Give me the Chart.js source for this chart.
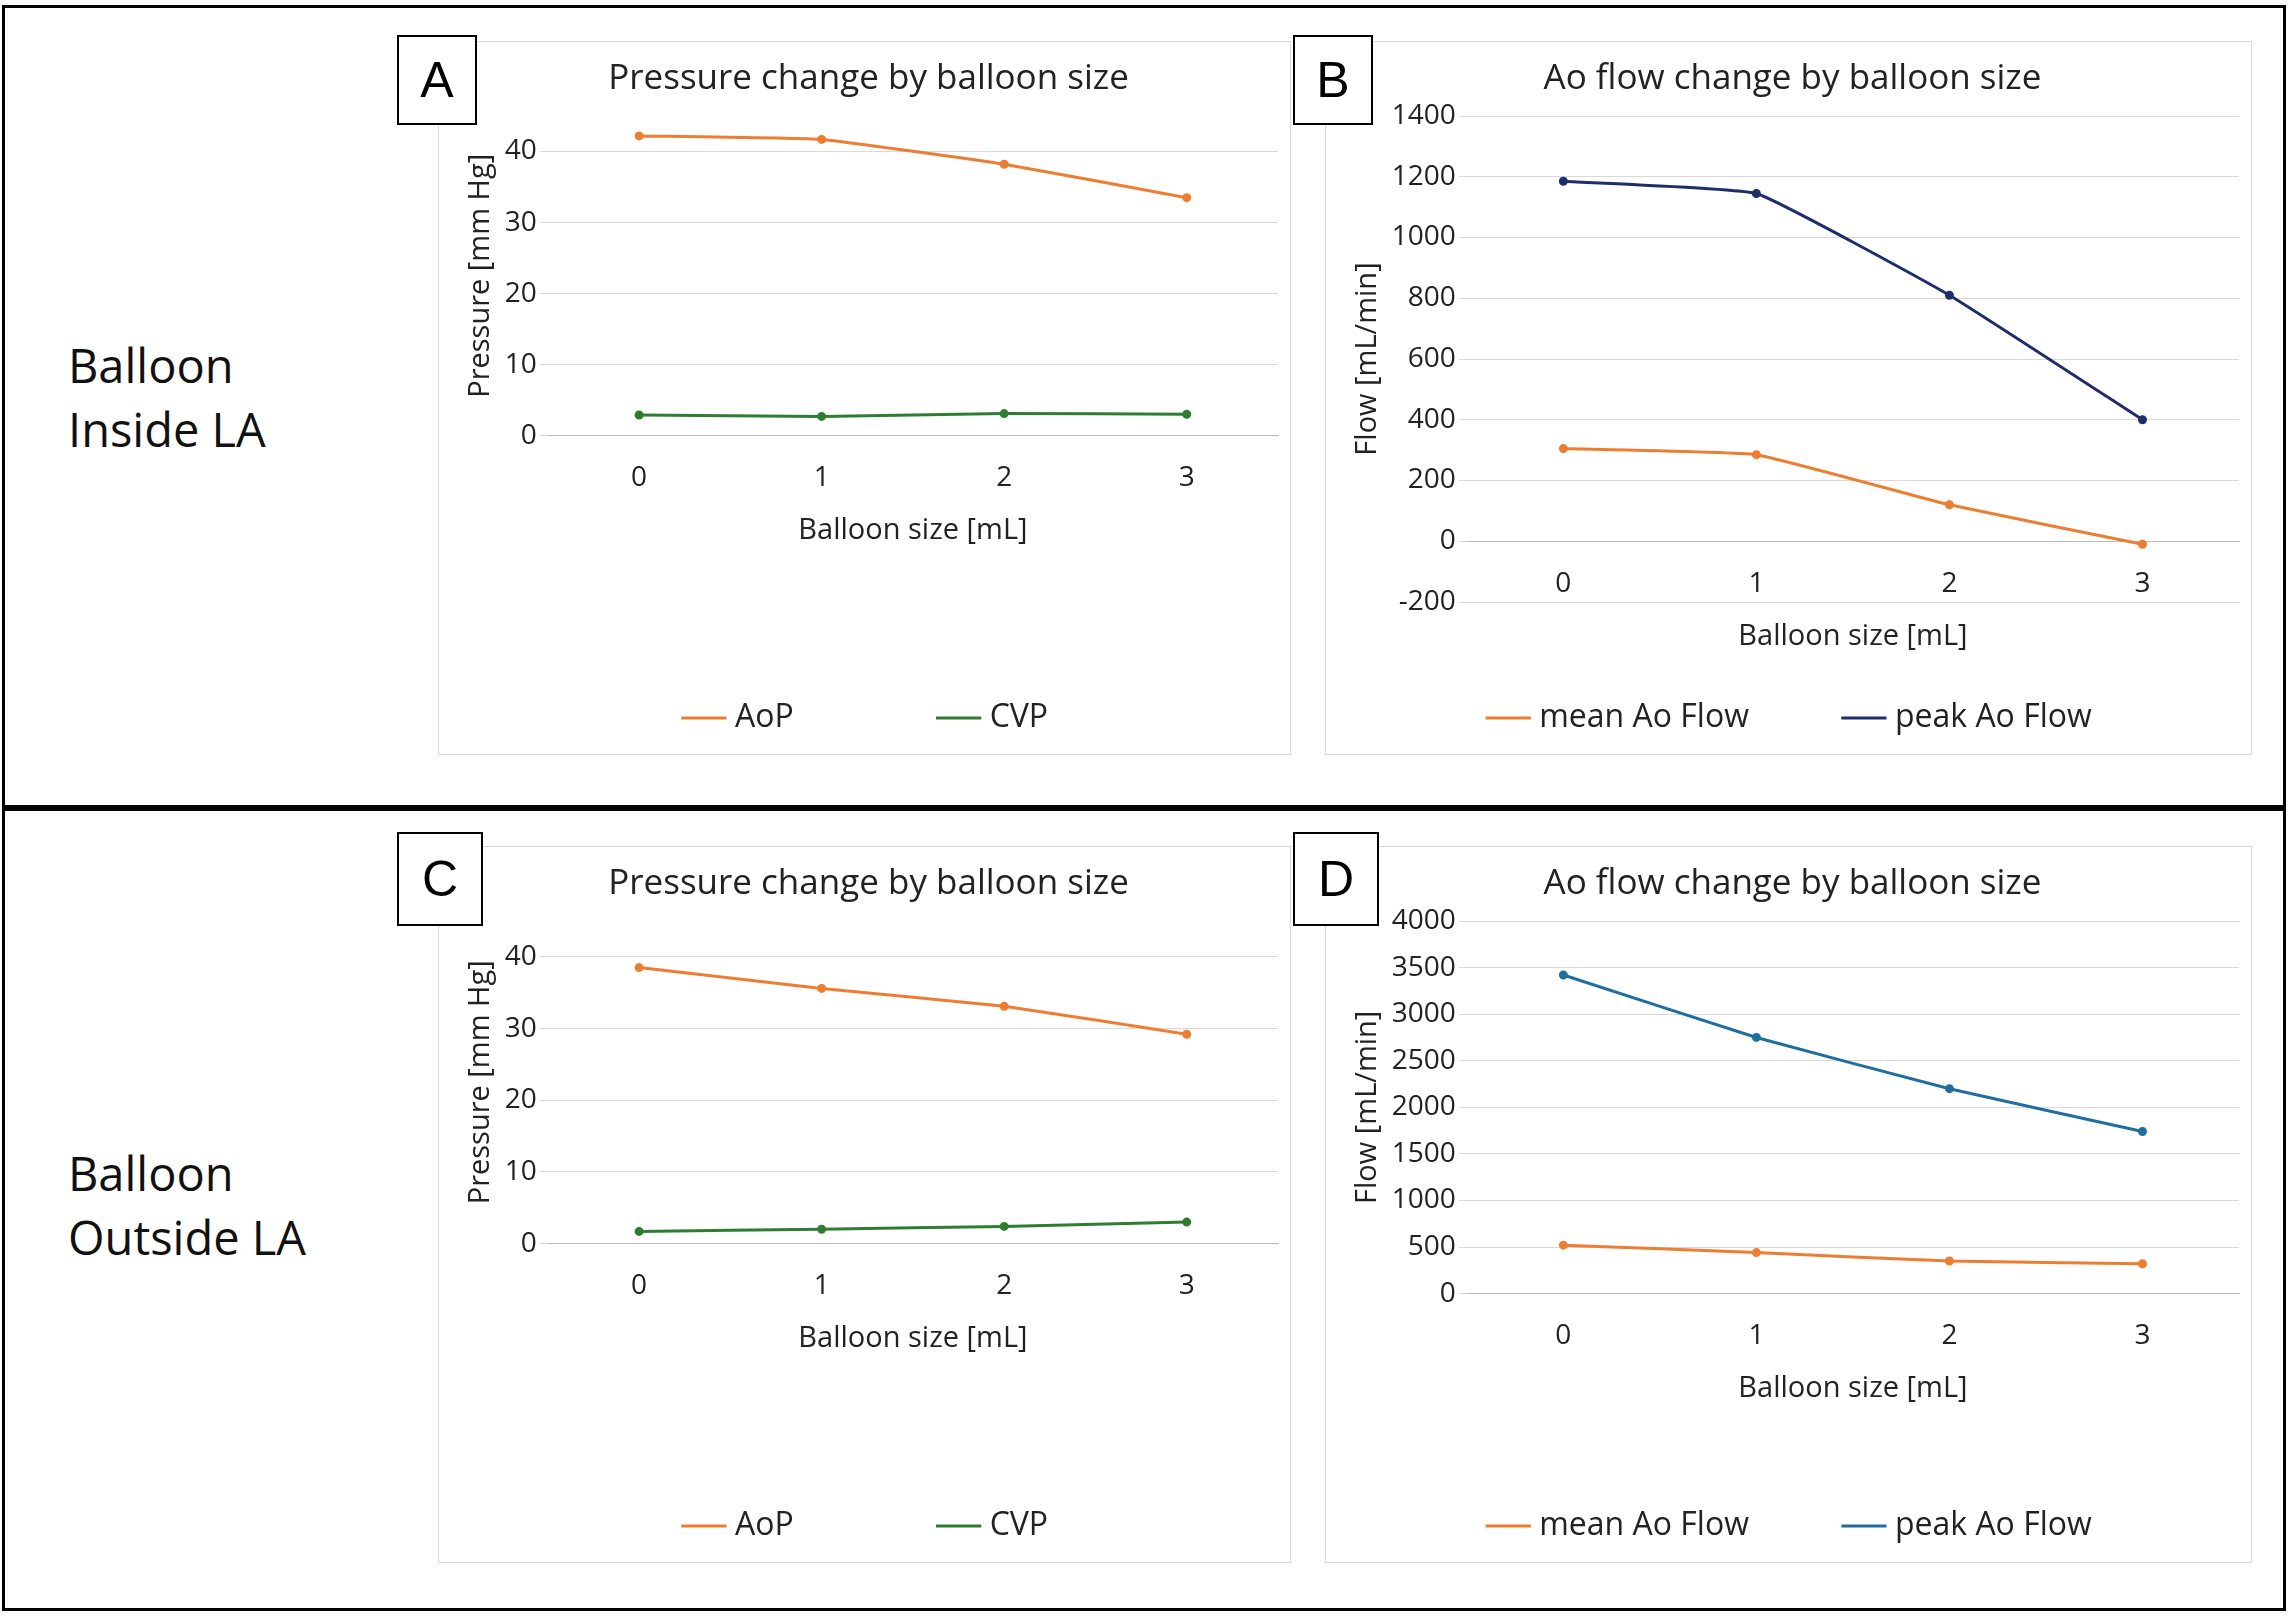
<!DOCTYPE html>
<html><head>
<script src="https://cdn.jsdelivr.net/npm/chart.js@4"></script>
<style>
body{margin:0;width:2288px;height:1616px;background:#fff;font-family:"Open Sans",Arial,sans-serif;position:relative;overflow:hidden}
.frame{position:absolute;border:3px solid #000}
.panel{position:absolute;border:1px solid #d9d9d9;background:#fff}
.tag{position:absolute;border:2px solid #000;background:#fff;font-size:50px;display:flex;align-items:center;justify-content:center;font-family:"Liberation Sans",Arial}
.side{position:absolute;font-size:47px;line-height:64px;color:#111}
</style></head><body>
<div class="frame" style="left:2px;top:5px;width:2278px;height:800px"></div>
<div class="frame" style="left:2px;top:805px;width:2278px;height:800px"></div>
<div class="side" style="left:68px;top:333px">Balloon<br>Inside LA</div>
<div class="side" style="left:68px;top:1141px">Balloon<br>Outside LA</div>
<div class="panel" style="left:438px;top:41px;width:851px;height:712px"><canvas id="cA"></canvas></div>
<div class="panel" style="left:1325px;top:41px;width:925px;height:712px"><canvas id="cB"></canvas></div>
<div class="panel" style="left:438px;top:846px;width:851px;height:715px"><canvas id="cC"></canvas></div>
<div class="panel" style="left:1325px;top:846px;width:925px;height:715px"><canvas id="cD"></canvas></div>
<div class="tag" style="left:397px;top:35px;width:76px;height:86px">A</div>
<div class="tag" style="left:1293px;top:35px;width:76px;height:86px">B</div>
<div class="tag" style="left:397px;top:832px;width:82px;height:90px">C</div>
<div class="tag" style="left:1293px;top:832px;width:82px;height:90px">D</div>
<script>
const balloonSizes = ["0", "1", "2", "3"];
const aopInside = [42.2, 41.7, 38.2, 33.5];
const cvpInside = [2.9, 2.7, 3.1, 3.0];
const meanFlowInside = [305, 285, 120, -10];
const peakFlowInside = [1185, 1145, 810, 400];
const aopOutside = [38.5, 35.6, 33.1, 29.2];
const cvpOutside = [1.7, 2.0, 2.4, 3.0];
const meanFlowOutside = [520, 440, 350, 320];
const peakFlowOutside = [3420, 2750, 2200, 1740];

Chart.defaults.font.family = "Open Sans";
Chart.defaults.color = "#222";

function ds(label, data, color) {
  return {label, data, borderColor: color, backgroundColor: color, borderWidth: 3,
    pointRadius: 3, pointStyle: "circle", tension: 0.1};
}

function makeChart(id, title, yTitle, sets, yMin, yMax, step, xAtZero, legendGap) {
  new Chart(document.getElementById(id), {
    type: "line",
    data: {labels: balloonSizes, datasets: sets},
    options: {
      responsive: true, maintainAspectRatio: false, animation: false,
      layout: {padding: {left: 20, right: 12, top: 8, bottom: 10}},
      plugins: {
        title: {display: true, text: title, font: {size: 35, weight: "normal"}, color: "#222", padding: {top: 8, bottom: 16}},
        legend: {position: "bottom", labels: {font: {size: 32}, usePointStyle: true, pointStyle: "line",
          boxWidth: 30, padding: legendGap, color: "#222"}}
      },
      scales: {
        x: {position: xAtZero ? {y: 0} : "bottom", offset: true,
          grid: {display: false}, border: {color: "#bbb"},
          ticks: {font: {size: 28}, padding: 18},
          title: {display: true, text: "Balloon size [mL]", font: {size: 29}, padding: {top: 0}}},
        y: {min: yMin, max: yMax, ticks: {stepSize: step, font: {size: 28}, callback: v => String(v)},
          grid: {color: "#d9d9d9"}, border: {display: false},
          title: {display: true, text: yTitle, font: {size: 29}}}
      }
    }
  });
}

makeChart("cA", "Pressure change by balloon size", "Pressure [mm Hg]",
  [ds("AoP", aopInside, "#ED7D31"), ds("CVP", cvpInside, "#2E7D32")], 0, 45, 5, false, 150);
makeChart("cB", "Ao flow change by balloon size", "Flow [mL/min]",
  [ds("mean Ao Flow", meanFlowInside, "#ED7D31"), ds("peak Ao Flow", peakFlowInside, "#1F2D6B")], -200, 1400, 200, true, 100);
makeChart("cC", "Pressure change by balloon size", "Pressure [mm Hg]",
  [ds("AoP", aopOutside, "#ED7D31"), ds("CVP", cvpOutside, "#2E7D32")], 0, 45, 5, false, 150);
makeChart("cD", "Ao flow change by balloon size", "Flow [mL/min]",
  [ds("mean Ao Flow", meanFlowOutside, "#ED7D31"), ds("peak Ao Flow", peakFlowOutside, "#1F6F9E")], 0, 4000, 500, false, 100);
</script>
</body></html>
